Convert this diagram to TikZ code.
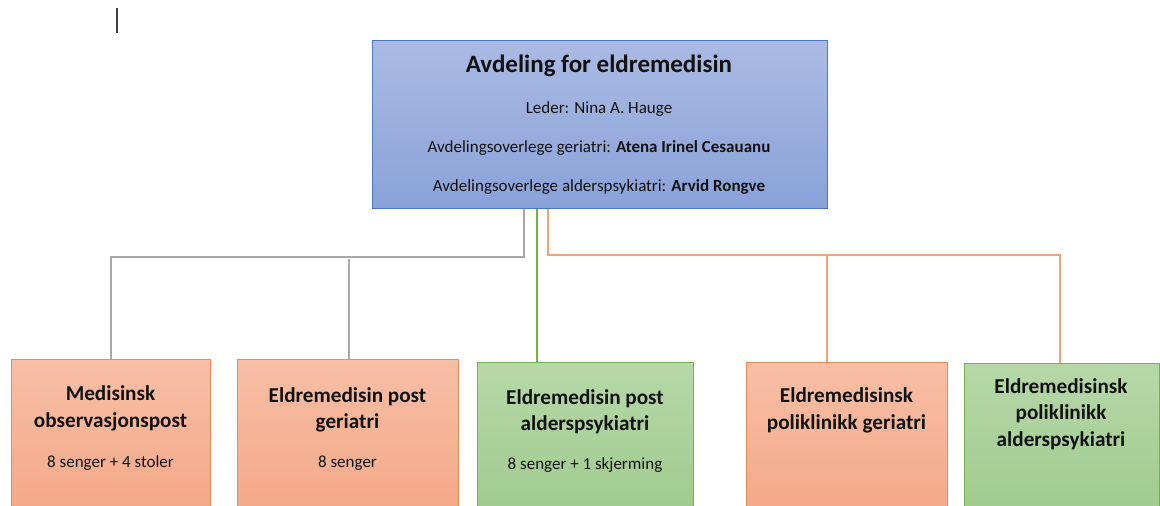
\documentclass[tikz,border=0pt]{standalone}
\usepackage{fontspec}
\setmainfont{Carlito}
\definecolor{blueT}{HTML}{AABAE3}
\definecolor{blueB}{HTML}{8AA2D9}
\definecolor{blueD}{HTML}{4A76C6}
\definecolor{orT}{HTML}{F7BFA6}
\definecolor{orB}{HTML}{F4A482}
\definecolor{orD}{HTML}{EE8A50}
\definecolor{grT}{HTML}{B6D8A9}
\definecolor{grB}{HTML}{9CC887}
\definecolor{grD}{HTML}{74B04C}
\definecolor{lnGray}{HTML}{A8A8A8}
\definecolor{lnOr}{HTML}{F2A273}
\definecolor{txt}{HTML}{111111}
\begin{document}
\begin{tikzpicture}[x=1pt,y=-1pt,
  box/.style={line width=1.2pt, inner sep=0pt, anchor=north west},
  bluebox/.style={box, draw=blueD, top color=blueT, bottom color=blueB},
  orbox/.style={box, draw=orD, top color=orT, bottom color=orB},
  grbox/.style={box, draw=grD, top color=grT, bottom color=grB},
  bigtitle/.style={anchor=base, text=txt, font=\fontsize{25}{29}\selectfont\bfseries},
  info/.style={anchor=base, text=txt, font=\fontsize{17}{20}\selectfont},
  btitle/.style={anchor=base, text=txt, font=\fontsize{21.2}{25}\selectfont\bfseries},
  gline/.style={draw=lnGray, line width=1.3pt},
  oline/.style={draw=lnOr, line width=1.3pt},
  grline/.style={draw=grD, line width=1.2pt}
]
\useasboundingbox (0,0) rectangle (1160,506);
\clip (0,0) rectangle (1160,506);
\fill[white] (0,0) rectangle (1160,506);

% cursor mark
\draw[line width=1.3pt, draw=black!75] (117,8) -- (117,33);

% top box
\node[bluebox, minimum width=455pt, minimum height=168pt] (top) at (372,40) {};
\node[bigtitle] (tt) at (599,72) {Avdeling for eldremedisin};
\node[info] (t1) at (599,113) {Leder: Nina A. Hauge};
\node[info] (t2) at (599,152) {Avdelingsoverlege geriatri: \textbf{Atena Irinel Cesauanu}};
\node[info] (t3) at (599,191) {Avdelingsoverlege alderspsykiatri: \textbf{Arvid Rongve}};

% bottom boxes
\node[orbox, minimum width=199pt, minimum height=180pt] (b1) at (11,359) {};
\node[orbox, minimum width=221pt, minimum height=180pt] (b2) at (237,359) {};
\node[grbox, minimum width=216pt, minimum height=180pt] (b3) at (477,362) {};
\node[orbox, minimum width=201pt, minimum height=180pt] (b4) at (746,362) {};
\node[grbox, minimum width=195pt, minimum height=180pt] (b5) at (964,363) {};

% texts
\node[btitle] (b1a) at (110.5,400) {Medisinsk};
\node[btitle] (b1b) at (110.5,427) {observasjonspost};
\node[info] (b1c) at (110.5,467) {8 senger + 4 stoler};

\node[btitle] (b2a) at (347.5,402) {Eldremedisin post};
\node[btitle] (b2b) at (347.5,428) {geriatri};
\node[info] (b2c) at (347.5,467) {8 senger};

\node[btitle] (b3a) at (585,404) {Eldremedisin post};
\node[btitle] (b3b) at (585,430) {alderspsykiatri};
\node[info] (b3c) at (585,469) {8 senger + 1 skjerming};

\node[btitle] (b4a) at (846.5,402) {Eldremedisinsk};
\node[btitle] (b4b) at (846.5,429) {poliklinikk geriatri};

\node[btitle] (b5a) at (1061,393) {Eldremedisinsk};
\node[btitle] (b5b) at (1061,419) {poliklinikk};
\node[btitle] (b5c) at (1061,446) {alderspsykiatri};

% connector coordinates
\coordinate (gA) at (524,257);
\coordinate (gL) at (111,257);
\coordinate (gM) at (349,259);
\coordinate (gr) at (537,0);
\coordinate (oA) at (548,255);
\coordinate (oM) at (827,255);
\coordinate (oR) at (1060,255);

% connectors
\draw[gline] (top.south -| gA) -- (gA) -- (gL) -- (b1.north -| gL);
\draw[gline] (gM) -- (b2.north -| gM);
\draw[grline] (top.south -| gr) -- (b3.north -| gr);
\draw[oline] (top.south -| oA) -- (oA) -- (oR) -- (b5.north -| oR);
\draw[oline] (oM) -- (b4.north -| oM);
\end{tikzpicture}
\end{document}
